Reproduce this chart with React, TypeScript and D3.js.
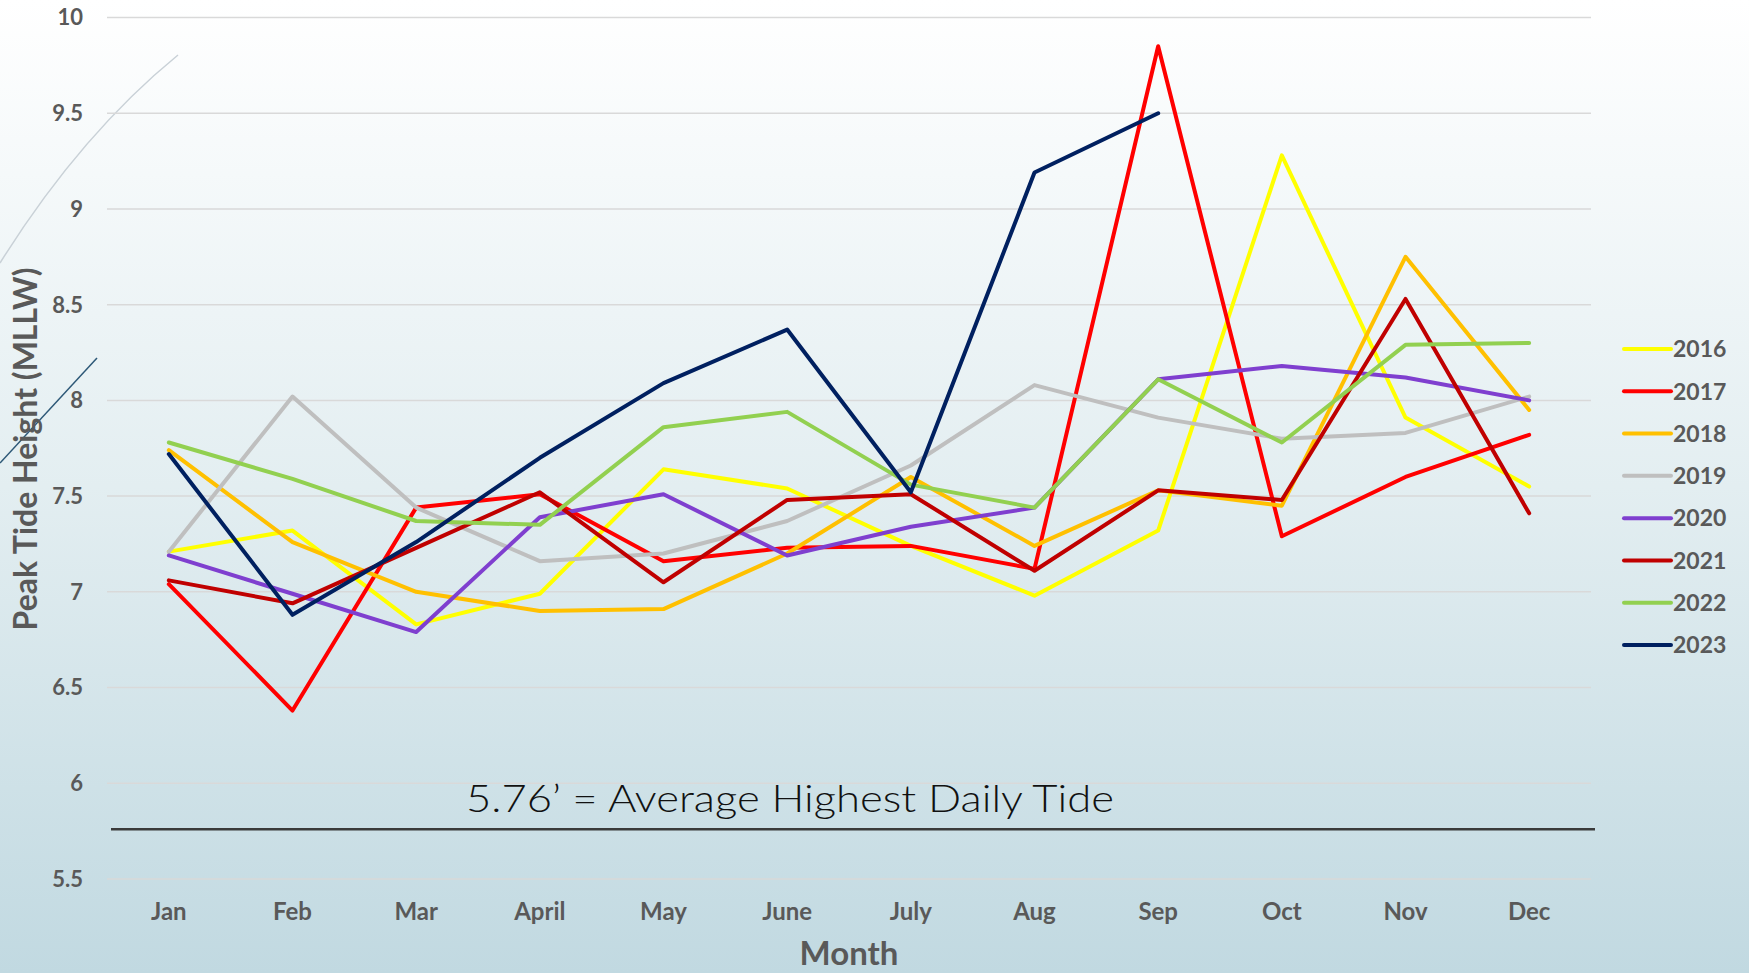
import { useEffect } from 'react';
import * as d3 from 'd3';

const months = ['Jan', 'Feb', 'Mar', 'April', 'May', 'June', 'July', 'Aug', 'Sep', 'Oct', 'Nov', 'Dec'];
const yTicks = [5.5, 6, 6.5, 7, 7.5, 8, 8.5, 9, 9.5, 10];

const years = ['2016', '2017', '2018', '2019', '2020', '2021', '2022', '2023'];
const colors = ['#ffff00', '#ff0000', '#ffc000', '#bfbfbf', '#7f3fcf', '#c00000', '#92d050', '#002060'];

const v2016 = [7.21, 7.32, 6.83, 6.99, 7.64, 7.54, 7.24, 6.98, 7.32, 9.28, 7.91, 7.55];
const v2017 = [7.04, 6.38, 7.44, 7.51, 7.16, 7.23, 7.24, 7.12, 9.85, 7.29, 7.6, 7.82];
const v2018 = [7.74, 7.26, 7.0, 6.9, 6.91, 7.2, 7.6, 7.24, 7.53, 7.45, 8.75, 7.95];
const v2019 = [7.21, 8.02, 7.44, 7.16, 7.2, 7.37, 7.66, 8.08, 7.91, 7.8, 7.83, 8.02];
const v2020 = [7.19, 6.99, 6.79, 7.39, 7.51, 7.19, 7.34, 7.44, 8.11, 8.18, 8.12, 8.0];
const v2021 = [7.06, 6.94, 7.23, 7.52, 7.05, 7.48, 7.51, 7.11, 7.53, 7.48, 8.53, 7.41];
const v2022 = [7.78, 7.59, 7.37, 7.35, 7.86, 7.94, 7.56, 7.44, 8.11, 7.78, 8.29, 8.3];
const v2023 = [7.72, 6.88, 7.26, 7.7, 8.09, 8.37, 7.52, 9.19, 9.5, null, null, null];

const seriesValues = [v2016, v2017, v2018, v2019, v2020, v2021, v2022, v2023];

const avgTide = 5.76;
const avgLabel = '5.76\u2019 = Average Highest Daily Tide';

const W = 1749;
const H = 973;
const font = 'Lato, "Open Sans", sans-serif';

export default function App() {
  useEffect(() => {
    document.body.style.margin = '0';
  }, []);

  const x = d3.scaleBand<string>().domain(months).range([107, 1591]).padding(0);
  const cx = (m: string) => (x(m) as number) + x.bandwidth() / 2;
  const y = d3.scaleLinear().domain([5.5, 10]).range([879, 17.5]);

  const line = d3
    .line<number | null>()
    .defined((d) => d != null)
    .x((_, i) => cx(months[i]))
    .y((d) => y(d as number));

  const legendY = d3.scalePoint<string>().domain(years).range([349, 645]);

  return (
    <svg width={W} height={H} style={{ display: 'block' }}>
      <defs>
        <linearGradient id="bg" x1="0" y1="0" x2="0" y2="1">
          <stop offset="0" stopColor="#ffffff" />
          <stop offset="0.5" stopColor="#e3eef1" />
          <stop offset="1" stopColor="#c1d9e1" />
        </linearGradient>
      </defs>
      <rect x={0} y={0} width={W} height={H} fill="url(#bg)" />

      {/* decorative slide lines */}
      <path d="M0,263 Q80,135 178,55" fill="none" stroke="#c9d1d7" strokeWidth={1.5} />
      <path d="M0,463 L97,358" fill="none" stroke="#2d5877" strokeWidth={1.5} />

      {/* grid */}
      {yTicks.map((t) => (
        <g key={t}>
          <line x1={107} x2={1591} y1={y(t)} y2={y(t)} stroke="#d9d9d9" strokeWidth={1.5} />
          <text
            x={83}
            y={y(t)}
            dy="0.36em"
            textAnchor="end"
            fontFamily={font}
            fontWeight="bold"
            fontSize={22}
            fill="#595959"
          >
            {t}
          </text>
        </g>
      ))}

      {/* month labels */}
      {months.map((m) => (
        <text
          key={m}
          x={cx(m)}
          y={920}
          textAnchor="middle"
          fontFamily={font}
          fontWeight="bold"
          fontSize={24}
          fill="#595959"
        >
          {m}
        </text>
      ))}

      <text x={849} y={965} textAnchor="middle" fontFamily={font} fontWeight="bold" fontSize={33} fill="#595959">
        Month
      </text>
      <text
        transform="translate(37,449) rotate(-90)"
        textAnchor="middle"
        fontFamily={font}
        fontWeight="bold"
        fontSize={32}
        fill="#595959"
      >
        Peak Tide Height (MLLW)
      </text>

      {/* average line */}
      <line x1={111} x2={1595} y1={y(avgTide)} y2={y(avgTide)} stroke="#3a3a3a" strokeWidth={2.5} />
      <text
        x={466}
        y={812}
        fontFamily={font}
        fontWeight={300}
        fontSize={37}
        fill="#111111"
        textLength={648}
        lengthAdjust="spacingAndGlyphs"
      >
        {avgLabel}
      </text>

      {/* series */}
      {seriesValues.map((vals, i) => (
        <path
          key={years[i]}
          d={line(vals) || ''}
          fill="none"
          stroke={colors[i]}
          strokeWidth={4}
          strokeLinejoin="round"
          strokeLinecap="round"
        />
      ))}

      {/* legend */}
      {years.map((yr, i) => (
        <g key={yr}>
          <line
            x1={1624}
            x2={1671}
            y1={legendY(yr)}
            y2={legendY(yr)}
            stroke={colors[i]}
            strokeWidth={4}
            strokeLinecap="round"
          />
          <text
            x={1673}
            y={legendY(yr)}
            dy="0.36em"
            fontFamily={font}
            fontWeight="bold"
            fontSize={23}
            fill="#595959"
          >
            {yr}
          </text>
        </g>
      ))}
    </svg>
  );
}
